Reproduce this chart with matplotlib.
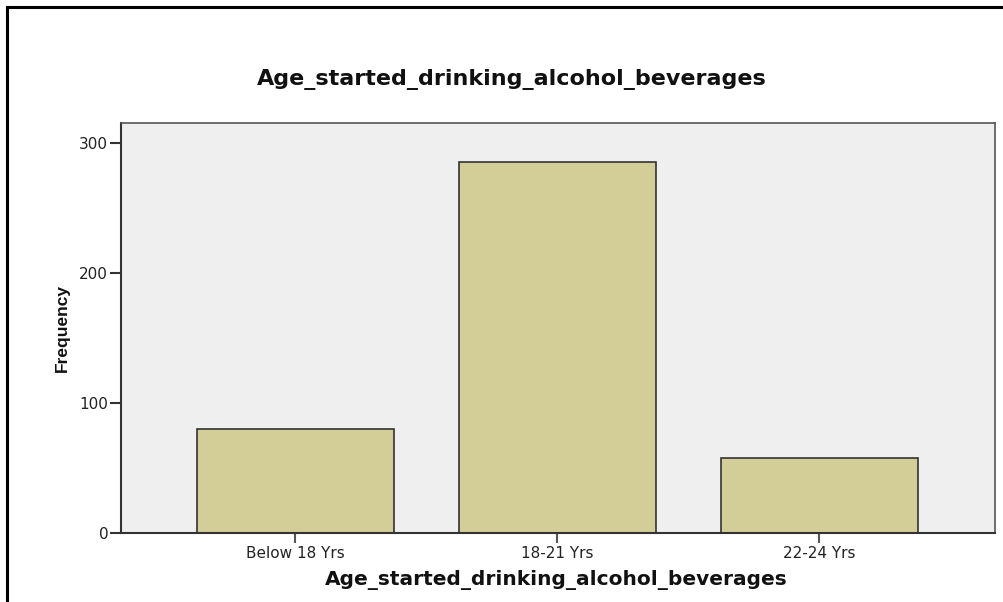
import matplotlib
matplotlib.use("Agg")
import matplotlib.pyplot as plt
from matplotlib.lines import Line2D

categories = ["Below 18 Yrs", "18-21 Yrs", "22-24 Yrs"]
frequency = [80, 286, 58]
y_ticks = [0, 100, 200, 300]
title = "Age_started_drinking_alcohol_beverages"

fig = plt.figure(figsize=(10.04, 6.02), dpi=100)
fig.patch.set_facecolor("white")

ax = fig.add_axes([0.1202, 0.1146, 0.8708, 0.6816])
ax.set_facecolor("#efefef")
x = range(len(categories))
ax.bar(x, frequency, width=0.752, color="#d3ce97", edgecolor="#333333", linewidth=1.2, zorder=2)

ax.set_xlim(-0.667, 2.67)
ax.set_ylim(0, 316)
ax.set_xticks(list(x))
ax.set_xticklabels(categories, fontsize=11, color="#222222")
ax.set_yticks(y_ticks)
ax.set_yticklabels([str(v) for v in y_ticks], fontsize=11, color="#222222")
ax.tick_params(axis="y", length=8, width=1.5, color="#333333", pad=1)
ax.tick_params(axis="x", length=7, width=1.5, color="#555555", pad=2)

for s in ["left", "bottom"]:
    ax.spines[s].set_color("#333333")
    ax.spines[s].set_linewidth(1.5)
for s in ["top", "right"]:
    ax.spines[s].set_color("#555555")
    ax.spines[s].set_linewidth(1.2)

# title, axis labels placed in figure pixels
fig.text(512 / 1004, 1 - 85 / 602, title, ha="center", va="baseline",
         fontsize=16, fontweight="bold", color="#111111")
fig.text(556 / 1004, 1 - 585 / 602, title, ha="center", va="baseline",
         fontsize=14.5, fontweight="bold", color="#111111")
fig.text(62 / 1004, 1 - 328 / 602, "Frequency", ha="center", va="center", rotation=90,
         fontsize=12.5, fontweight="bold", color="#111111", family="Liberation Sans")

# outer frame (top and left edges)
fig.add_artist(Line2D([7 / 1004, 1.0], [1 - 7 / 602, 1 - 7 / 602], color="black", linewidth=2.2))
fig.add_artist(Line2D([7 / 1004, 7 / 1004], [0.0, 1 - 7 / 602], color="black", linewidth=2.2))

fig.savefig("out.png", dpi=100)
